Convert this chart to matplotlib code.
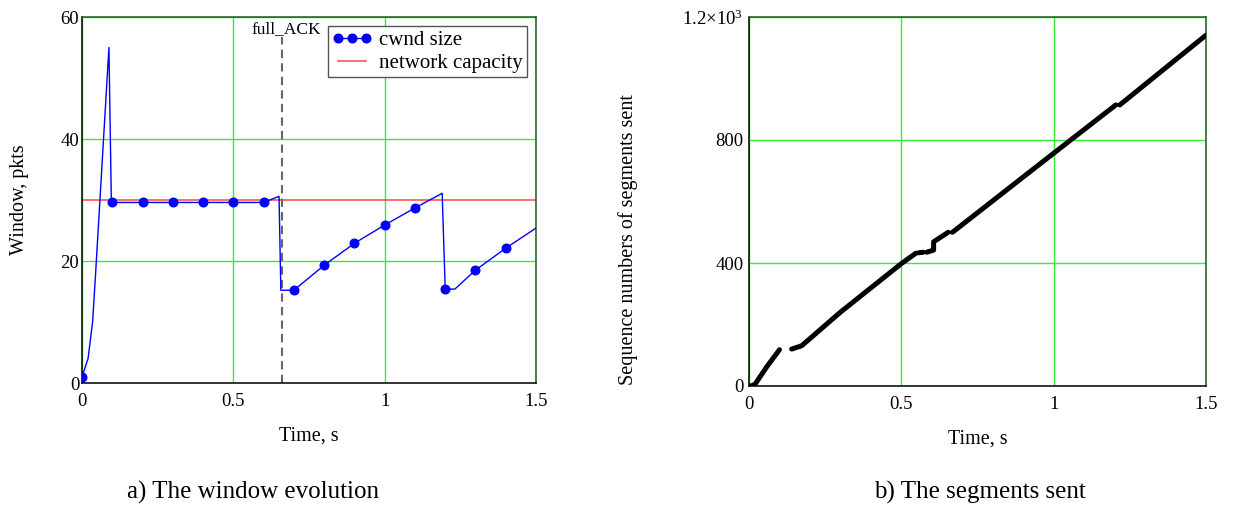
import numpy as np
import matplotlib
matplotlib.use("Agg")
import matplotlib.pyplot as plt

plt.rcParams['font.family'] = ['Liberation Serif', 'DejaVu Serif']
plt.rcParams['mathtext.fontset'] = 'custom'
plt.rcParams['mathtext.rm'] = 'Liberation Serif'
plt.rcParams['mathtext.it'] = 'Liberation Serif:italic'

# ---- data: panel a (window evolution) ----
win_t = [0.0, 0.02, 0.035, 0.045, 0.089, 0.097, 0.1, 0.2, 0.3, 0.4, 0.5, 0.6,
         0.651, 0.657, 0.7, 0.8, 0.9, 1.0, 1.1, 1.19, 1.2, 1.232, 1.3, 1.4, 1.5]
win_w = [1.0, 4.0, 10.0, 18.0, 55.0, 29.6, 29.6, 29.6, 29.6, 29.6, 29.6, 29.6,
         30.6, 15.2, 15.2, 19.3, 22.9, 25.9, 28.7, 31.1, 15.4, 15.4, 18.5, 22.1, 25.4]
marker_t = [0.0, 0.1, 0.2, 0.3, 0.4, 0.5, 0.6, 0.7, 0.8, 0.9, 1.0, 1.1, 1.2, 1.3, 1.4]
capacity = 30.0
full_ack_t = 0.66

# ---- data: panel b (segments sent) ----
seg_t = [0.0, 0.01, 0.02, 0.058, 0.1, np.nan,
         0.14, 0.173, 0.3, 0.5, 0.548, np.nan,
         0.557, 0.561, np.nan,
         0.567, 0.571, np.nan,
         0.583, 0.606, 0.606, 0.654, np.nan,
         0.668, 1.0, 1.204, np.nan,
         1.217, 1.5]
seg_s = [0, 1, 6, 62, 118, np.nan,
         120, 131, 240, 398, 432, np.nan,
         433, 434, np.nan,
         434, 435, np.nan,
         435, 442, 469, 500, np.nan,
         500, 757, 914, np.nan,
         914, 1141]

W, H = 1235, 517
fig = plt.figure(figsize=(W/100, H/100), dpi=100)

def px_axes(x0, y0, x1, y1):
    return fig.add_axes([x0/W, 1 - y1/H, (x1-x0)/W, (y1-y0)/H])

grid_c = '#33ee33'
frame_c = '#1a5a1a'

def style(ax):
    ax.grid(True, color=grid_c, lw=1.0)
    ax.set_axisbelow(True)
    ax.tick_params(length=0, labelsize=13.5)
    ax.tick_params(axis='x', pad=7)
    ax.tick_params(axis='y', pad=2)
    for s in ['left', 'bottom']:
        ax.spines[s].set_color('black')
        ax.spines[s].set_linewidth(1.1)
    for s in ['top', 'right']:
        ax.spines[s].set_color(frame_c)
        ax.spines[s].set_linewidth(1.1)

# ---- panel a ----
ax1 = px_axes(82, 17, 536, 383)
style(ax1)
ax1.set_xlim(0, 1.5)
ax1.set_ylim(0, 60)
ax1.set_xticks([0, 0.5, 1, 1.5])
ax1.set_xticklabels(['0', '0.5', '1', '1.5'])
ax1.set_yticks([0, 20, 40, 60])
mk_idx = [i for i, t in enumerate(win_t) if any(abs(t - m) < 1e-9 for m in marker_t)]
ax1.plot(win_t, win_w, color='#0000ff', lw=1.0, marker='o', ms=6.2,
         markevery=mk_idx, label='cwnd size', zorder=3)
ax1.axhline(capacity, color='#ff5555', lw=1.2, label='network capacity', zorder=2)
ax1.axvline(full_ack_t, ymin=0, ymax=56.8/60, color='#666666', lw=1.5,
            ls=(0, (4, 2.5)), zorder=2)
ax1.text(0.674, 57.4, 'full_ACK', ha='center', va='baseline', fontsize=12.5)
leg = ax1.legend(loc='upper right', fontsize=15, numpoints=3, handlelength=1.95,
                 borderpad=0.2, labelspacing=0.15, handletextpad=0.3,
                 borderaxespad=0.45, fancybox=False, framealpha=1,
                 edgecolor='#555555')
leg.get_frame().set_linewidth(1.0)
ax1.set_xlabel('Time, s', fontsize=14.5, labelpad=12)
fig.text(20/W, 1 - 200/H, 'Window, pkts', rotation=90,
         ha='center', va='center', fontsize=14.5)

# ---- panel b ----
ax2 = px_axes(749, 17, 1206, 386)
style(ax2)
ax2.set_xlim(0, 1.5)
ax2.set_ylim(0, 1200)
ax2.set_xticks([0, 0.5, 1, 1.5])
ax2.set_xticklabels(['0', '0.5', '1', '1.5'])
ax2.set_yticks([0, 400, 800, 1200])
ax2.set_yticklabels(['0', '400', '800', r'1.2$\times$10$^{3}$'])
ax2.tick_params(axis='y', pad=4)
ax2.plot(seg_t, seg_s, color='black', lw=3.6, solid_capstyle='round', zorder=3)
ax2.set_xlabel('Time, s', fontsize=14.5, labelpad=12)

fig.text(628/W, 1 - 240/H, 'Sequence numbers of segments sent', rotation=90,
         ha='center', va='center', fontsize=14.5)

fig.text(253/W, 1 - 492/H, 'a) The window evolution', ha='center', va='center', fontsize=18)
fig.text(980/W, 1 - 492/H, 'b) The segments sent', ha='center', va='center', fontsize=18)

fig.savefig('out.png', dpi=100)
